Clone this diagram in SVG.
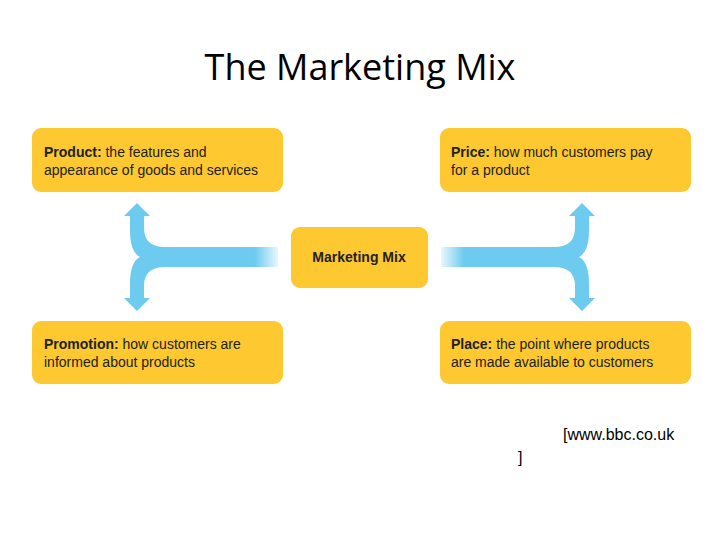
<svg xmlns="http://www.w3.org/2000/svg" width="720" height="540" viewBox="0 0 720 540">
<style>
.box{fill:#fdc830}
.t{font-family:"Liberation Sans",Arial,sans-serif;font-size:14px;fill:#222}
.b{font-weight:bold}
</style>
<defs>
<linearGradient id="g" gradientUnits="userSpaceOnUse" x1="124" y1="0" x2="278" y2="0">
<stop offset="0" stop-color="#6ccbee"/><stop offset="0.85" stop-color="#6ccbee"/><stop offset="1" stop-color="#6ccbee" stop-opacity="0.15"/>
</linearGradient>
</defs>
<rect width="720" height="540" fill="#fff"/>
<text x="360" y="80" text-anchor="middle" font-family="'Open Sans',sans-serif" font-size="36" fill="#000">The Marketing Mix</text>
<g id="connectors">
<path id="arrowL" fill="url(#g)" d="M278 247 L165 247 Q144 247 144 228 L144 216 L150 216 L137 203 L124 216 L130 216 L130 230 Q130 252 140 257 Q130 262 130 284 L130 298 L124 298 L137 311 L150 298 L144 298 L144 286 Q144 267 165 267 L278 267 Z"/>
<use href="#arrowL" transform="translate(719,0) scale(-1,1)"/>
</g>
<g id="product"><rect class="box" x="32" y="128" width="251" height="64" rx="9"/>
<text class="t" x="44" y="157"><tspan class="b">Product:</tspan> the features and</text>
<text class="t" x="44" y="175">appearance of goods and services</text></g>
<g id="price"><rect class="box" x="440" y="128" width="251" height="64" rx="9"/>
<text class="t" x="451" y="157"><tspan class="b">Price:</tspan> how much customers pay</text>
<text class="t" x="451" y="175">for a product</text></g>
<g id="mix"><rect class="box" x="291" y="227" width="137" height="61" rx="9"/>
<text class="t b" x="359" y="262" text-anchor="middle">Marketing Mix</text></g>
<g id="promotion"><rect class="box" x="32" y="321" width="251" height="63" rx="9"/>
<text class="t" x="44" y="349"><tspan class="b">Promotion:</tspan> how customers are</text>
<text class="t" x="44" y="367">informed about products</text></g>
<g id="place"><rect class="box" x="440" y="321" width="251" height="63" rx="9"/>
<text class="t" x="451" y="349"><tspan class="b">Place:</tspan> the point where products</text>
<text class="t" x="451" y="367">are made available to customers</text></g>
<text x="563" y="440" font-family="'Liberation Sans',Arial,sans-serif" font-size="16" fill="#000">[www.bbc.co.uk</text>
<text x="518" y="463" font-family="'Liberation Sans',Arial,sans-serif" font-size="16" fill="#000">]</text>
</svg>
